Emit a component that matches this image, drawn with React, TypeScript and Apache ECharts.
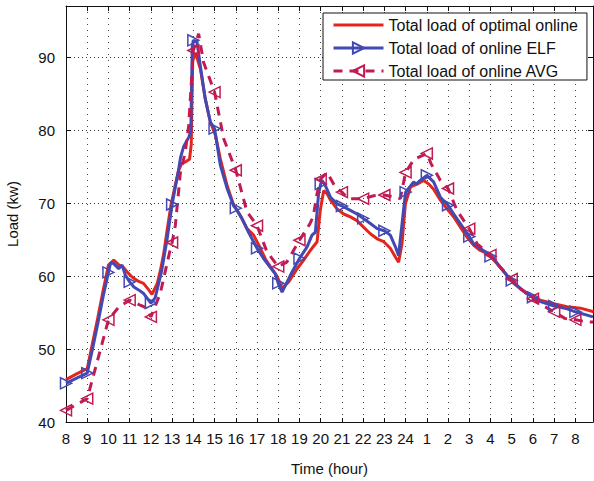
import React, { useEffect, useRef } from 'react';
import * as echarts from 'echarts';

// x positions are hours elapsed since 8:00 (0 = 8h, 16 = 24h, 24 = 8h next day)
const xTickLabels = ['8', '9', '10', '11', '12', '13', '14', '15', '16', '17', '18', '19', '20', '21', '22', '23', '24', '1', '2', '3', '4', '5', '6', '7', '8'];

const seriesNames = ['Total load of optimal online', 'Total load of online ELF', 'Total load of online AVG'];

const optHours = [0, 0.5, 1, 1.25, 1.5, 1.75, 2, 2.25, 2.5, 2.7, 2.9, 3.1, 3.4, 3.65, 3.9, 4.05, 4.3, 4.45, 4.6, 4.75, 4.95, 5.15, 5.31, 5.45, 5.6, 5.82, 5.9, 5.97, 6.1, 6.33, 6.56, 6.8, 7.04, 7.27, 7.59, 7.9, 8.21, 8.53, 8.84, 9.16, 9.4, 9.63, 9.94, 10.18, 10.49, 10.89, 11.2, 11.51, 11.83, 11.98, 12.14, 12.3, 12.46, 12.77, 13.08, 13.4, 13.71, 14.02, 14.34, 14.66, 14.97, 15.28, 15.52, 15.67, 15.83, 15.99, 16.23, 16.54, 16.85, 17.09, 17.32, 17.64, 17.95, 18.27, 18.58, 18.9, 19.21, 19.52, 19.84, 20.15, 20.46, 20.77, 21.09, 21.4, 21.72, 22.03, 22.35, 22.98, 23.61, 24.24, 24.86];
const optLoad = [45.8, 46.6, 47.3, 50.8, 54.3, 58.0, 61.5, 62.2, 61.5, 61.2, 60.5, 59.9, 59.3, 59.0, 58.1, 57.5, 59.0, 60.8, 63.0, 66.0, 69.8, 72.5, 74.5, 75.4, 75.6, 76.0, 78.0, 89.5, 90.6, 88.4, 84.3, 81.1, 79.3, 76.1, 72.4, 69.7, 68.3, 66.5, 65.6, 63.8, 62.3, 61.3, 60.0, 58.3, 59.2, 61.0, 62.2, 63.5, 64.7, 69.0, 71.7, 71.3, 70.4, 69.2, 68.5, 68.1, 67.6, 66.7, 65.8, 65.1, 64.7, 63.8, 62.6, 61.9, 64.4, 69.9, 72.2, 72.6, 73.1, 72.6, 71.9, 70.4, 69.2, 68.1, 66.7, 65.3, 64.2, 63.5, 63.1, 62.2, 61.2, 60.1, 59.0, 58.3, 57.6, 57.1, 56.7, 56.2, 55.8, 55.6, 55.1];

const elfHours = [0, 0.5, 1, 1.25, 1.5, 1.75, 2, 2.1, 2.25, 2.48, 2.64, 2.8, 3, 3.2, 3.42, 3.66, 3.89, 4, 4.2, 4.5, 4.76, 5, 5.3, 5.4, 5.55, 5.8, 5.88, 5.95, 6, 6.17, 6.33, 6.56, 6.8, 7, 7.27, 7.59, 7.9, 8, 8.29, 8.6, 9, 9.31, 9.62, 9.86, 10, 10.18, 10.57, 11, 11.36, 11.59, 11.75, 11.9, 12, 12.06, 12.22, 12.46, 12.77, 13, 13.4, 13.71, 14, 14.34, 14.66, 15, 15.28, 15.52, 15.67, 15.9, 16, 16.38, 16.5, 16.69, 17, 17.32, 17.64, 18, 18.27, 18.58, 19, 19.21, 19.52, 20, 20.15, 20.46, 20.77, 21, 21.4, 21.72, 22, 22.35, 23, 23.61, 24, 24.83];
const elfLoad = [45.3, 46.0, 46.7, 50.0, 53.5, 57.2, 60.5, 61.8, 61.7, 61.0, 61.5, 60.1, 59.2, 58.5, 58.1, 57.6, 56.7, 56.3, 57.0, 60.6, 65.0, 69.8, 74.5, 76.3, 77.8, 79.1, 80.0, 91.5, 92.3, 92.1, 88.8, 84.3, 81.1, 80.2, 75.2, 72.0, 69.6, 69.3, 67.9, 66.0, 63.8, 62.4, 61.2, 60.3, 59.0, 57.8, 60.1, 62.4, 64.0, 65.6, 66.0, 71.3, 72.6, 73.1, 72.4, 70.8, 69.9, 69.6, 69.0, 68.5, 67.9, 67.2, 66.5, 66.2, 65.6, 64.0, 62.8, 69.0, 71.5, 72.9, 72.6, 73.1, 73.8, 72.9, 70.8, 69.7, 68.5, 67.2, 65.4, 64.4, 63.8, 62.7, 62.4, 61.2, 60.1, 59.4, 58.3, 57.6, 57.1, 56.5, 55.9, 55.5, 55.1, 54.4];

const avgHours = [0, 1, 2, 2.5, 3, 3.5, 3.8, 4, 4.44, 4.9, 5, 5.15, 5.39, 5.62, 5.78, 6, 6.25, 6.48, 7, 7.43, 8, 8.53, 9, 9.47, 10, 10.4, 11, 11.5, 11.65, 11.83, 12, 12.3, 12.69, 13, 13.3, 14, 14.5, 15, 15.5, 15.75, 16, 16.4, 17, 17.2, 17.64, 18, 18.42, 19, 19.37, 20, 20.46, 21, 21.4, 22, 22.3, 23, 23.5, 24, 24.6, 24.83];
const avgLoad = [41.6, 43.2, 54.0, 55.8, 56.7, 56.0, 55.6, 54.4, 57.6, 63.5, 64.6, 66.9, 74.2, 77.0, 80.6, 90.9, 93.2, 89.3, 85.2, 78.8, 74.5, 68.8, 66.9, 63.3, 61.3, 61.9, 64.9, 67.2, 68.2, 71.3, 73.3, 74.2, 72.2, 71.5, 70.6, 70.6, 71.0, 71.1, 70.8, 70.6, 74.2, 76.0, 76.8, 75.4, 73.1, 72.0, 69.0, 66.5, 64.4, 62.9, 61.2, 59.6, 58.3, 56.9, 56.2, 55.1, 54.2, 54.0, 53.7, 53.7];

const FONT = "'Liberation Sans', Arial, Helvetica, sans-serif";
const RED = '#e3261d';
const BLUE = '#4349b3';
const AVGC = '#c21b52';

function toData(hours: number[], vals: number[], markers: boolean) {
  return hours.map((h, i) =>
    markers && Number.isInteger(h) && h <= 24
      ? { value: [h, vals[i]] }
      : { value: [h, vals[i]], symbol: 'none' }
  );
}

export default function App() {
  const ref = useRef<HTMLDivElement>(null);
  useEffect(() => {
    const chart = echarts.init(ref.current!, undefined, { renderer: 'svg' });
    const dotted = { show: true, lineStyle: { color: '#444', width: 1, type: [1, 5] as any } };
    const baseX = {
      type: 'value' as const,
      min: 0,
      max: 24.83,
      interval: 1,
    };
    chart.setOption({
      animation: false,
      backgroundColor: '#fff',
      grid: { left: 66, top: 6, right: 1, bottom: 59, show: false, containLabel: false, outerBoundsMode: 'none' },
      legend: {
        orient: 'vertical',
        left: 323,
        top: 13,
        itemWidth: 50,
        itemHeight: 14,
        itemGap: 7,
        padding: [4, 9, 1, 9],
        backgroundColor: '#fff',
        borderColor: '#111',
        borderWidth: 1,
        textStyle: { fontSize: 16, color: '#111', fontFamily: FONT },
        data: [
          { name: seriesNames[0], itemStyle: { opacity: 0 }, lineStyle: { width: 3 } },
          { name: seriesNames[1], lineStyle: { width: 3 } },
          { name: seriesNames[2], lineStyle: { width: 3 } },
        ],
      },
      xAxis: [
        {
          ...baseX,
          position: 'bottom',
          name: 'Time (hour)',
          nameLocation: 'middle',
          nameGap: 39,
          nameTextStyle: { fontSize: 15, color: '#111', fontFamily: FONT },
          axisLine: { show: true, onZero: false, lineStyle: { color: '#111', width: 1 } },
          axisTick: { show: true, inside: true, length: 4, lineStyle: { color: '#111' } },
          axisLabel: {
            fontSize: 15,
            color: '#111',
            fontFamily: FONT,
            margin: 9,
            formatter: (v: number) => (Number.isInteger(v) && v <= 24 ? xTickLabels[v] : ''),
          },
          splitLine: dotted,
        },
        {
          ...baseX,
          position: 'top',
          axisLine: { show: true, onZero: false, lineStyle: { color: '#111', width: 1 } },
          axisTick: { show: true, inside: true, length: 5, lineStyle: { color: '#111' } },
          axisLabel: { show: false },
          splitLine: { show: false },
        },
      ],
      yAxis: [
        {
          type: 'value',
          min: 40,
          max: 97,
          interval: 10,
          position: 'left',
          name: 'Load (kw)',
          nameLocation: 'middle',
          nameGap: 46,
          nameRotate: 90,
          nameTextStyle: { fontSize: 15, color: '#111', fontFamily: FONT },
          axisLine: { show: true, onZero: false, lineStyle: { color: '#111', width: 1 } },
          axisTick: { show: true, inside: true, length: 5, lineStyle: { color: '#111' } },
          axisLabel: {
            fontSize: 15,
            color: '#111',
            fontFamily: FONT,
            margin: 11,
            formatter: (v: number) => (v % 10 === 0 ? String(v) : ''),
          },
          splitLine: { show: true, lineStyle: { color: '#333', width: 1, type: [1, 3] as any } },
        },
        {
          type: 'value',
          min: 40,
          max: 97,
          interval: 10,
          position: 'right',
          axisLine: { show: true, onZero: false, lineStyle: { color: '#111', width: 1 } },
          axisTick: { show: true, inside: true, length: 5, lineStyle: { color: '#111' } },
          axisLabel: { show: false },
          splitLine: { show: false },
        },
      ],
      series: [
        {
          name: seriesNames[0],
          type: 'line',
          xAxisIndex: 0,
          yAxisIndex: 0,
          symbol: 'none',
          data: toData(optHours, optLoad, false),
          lineStyle: { color: RED, width: 3 },
          itemStyle: { color: RED },
        },
        {
          name: seriesNames[1],
          type: 'line',
          xAxisIndex: 0,
          yAxisIndex: 0,
          symbol: 'triangle',
          symbolSize: 11,
          symbolRotate: -90,
          data: toData(elfHours, elfLoad, true),
          lineStyle: { color: BLUE, width: 3 },
          itemStyle: { color: 'rgba(0,0,0,0)', borderColor: BLUE, borderWidth: 1.5 },
        },
        {
          name: seriesNames[2],
          type: 'line',
          xAxisIndex: 0,
          yAxisIndex: 0,
          symbol: 'triangle',
          symbolSize: 11,
          symbolRotate: 90,
          data: toData(avgHours, avgLoad, true),
          lineStyle: { color: AVGC, width: 3, type: [9, 7] as any },
          itemStyle: { color: 'rgba(0,0,0,0)', borderColor: AVGC, borderWidth: 1.5 },
        },
      ],
    });
    return () => chart.dispose();
  }, []);
  return (
    <div
      ref={ref}
      style={{ position: 'fixed', left: 0, top: 0, width: 594, height: 481, background: '#fff' }}
    />
  );
}
